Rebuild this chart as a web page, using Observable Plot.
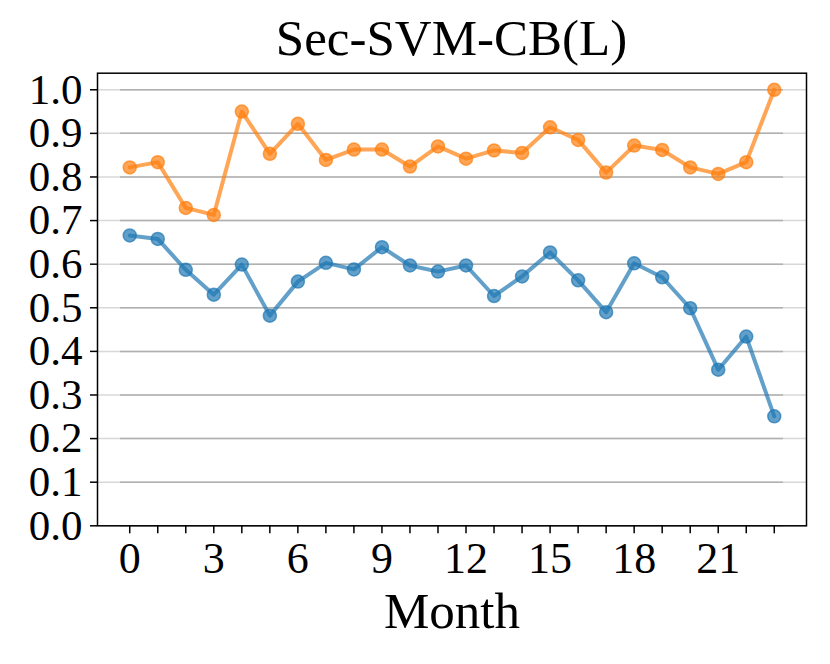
<!DOCTYPE html>
<html><head><meta charset="utf-8">
<script src="https://cdn.jsdelivr.net/npm/d3@7"></script>
<script src="https://cdn.jsdelivr.net/npm/@observablehq/plot@0.6"></script>
<style>
body{margin:0;background:#fff;}
#title{height:70px;box-sizing:border-box;padding:8px 24px 0 97px;font-family:"Liberation Serif",serif;font-size:51px;line-height:60px;text-align:center;white-space:nowrap;color:#000;}
</style></head><body>
<div id="title">Sec-SVM-CB(L)</div>
<div id="chart"></div>
<script>
const months = [0,1,2,3,4,5,6,7,8,9,10,11,12,13,14,15,16,17,18,19,20,21,22,23];
const blueValues = [0.666,0.658,0.587,0.530,0.599,0.482,0.560,0.603,0.588,0.639,0.597,0.583,0.597,0.527,0.572,0.627,0.563,0.490,0.602,0.570,0.499,0.358,0.434,0.251];
const orangeValues = [0.822,0.834,0.729,0.713,0.950,0.853,0.922,0.839,0.863,0.863,0.824,0.870,0.842,0.861,0.855,0.914,0.885,0.810,0.872,0.862,0.822,0.807,0.834,1.000];
const xTickLabels = [0,3,6,9,12,15,18,21];
const yTicks = [0,0.1,0.2,0.3,0.4,0.5,0.6,0.7,0.8,0.9,1.0];

const blue = months.map((m,i)=>({month:m, value:blueValues[i]}));
const orange = months.map((m,i)=>({month:m, value:orangeValues[i]}));

const chart = Plot.plot({
  width: 830, height: 594,
  marginLeft: 97, marginRight: 24, marginTop: 2.7, marginBottom: 138.7,
  style: {fontFamily: "Liberation Serif", background: "white", color: "black", overflow: "visible"},
  x: {domain: [-1.15, 24.15]},
  y: {domain: [0, 1.038]},
  marks: [
    Plot.ruleY(yTicks, {stroke: "#d8d8d8", strokeWidth: 1.5}),
    Plot.ruleY(yTicks, {x1: -0.33, x2: 23.33, stroke: "#b0b0b0", strokeWidth: 1.5}),
    Plot.lineY(blue, {x: "month", y: "value", stroke: "#1f77b4", strokeOpacity: 0.7, strokeWidth: 4}),
    Plot.dot(blue, {x: "month", y: "value", r: 6.5, fill: "#1f77b4", fillOpacity: 0.7, stroke: "#1f77b4", strokeOpacity: 0.7, strokeWidth: 1.5}),
    Plot.lineY(orange, {x: "month", y: "value", stroke: "#ff7f0e", strokeOpacity: 0.7, strokeWidth: 4}),
    Plot.dot(orange, {x: "month", y: "value", r: 6.5, fill: "#ff7f0e", fillOpacity: 0.7, stroke: "#ff7f0e", strokeOpacity: 0.7, strokeWidth: 1.5}),
    Plot.frame({stroke: "black", strokeWidth: 1.5}),
    Plot.axisX({ticks: months, tickFormat: d => xTickLabels.includes(d) ? String(d) : "", tickSize: 8, tickPadding: 8, fontSize: 44, strokeWidth: 1.5, label: null}),
    Plot.axisY({ticks: yTicks, tickFormat: d3.format(".1f"), tickSize: 7, tickPadding: 8, fontSize: 43, strokeWidth: 1.5, label: null}),
    Plot.text(["Month"], {frameAnchor: "bottom", dy: 85.4, fontSize: 51, lineAnchor: "middle", fill: "black"})
  ]
});
document.getElementById("chart").appendChild(chart);
</script>
</body></html>
